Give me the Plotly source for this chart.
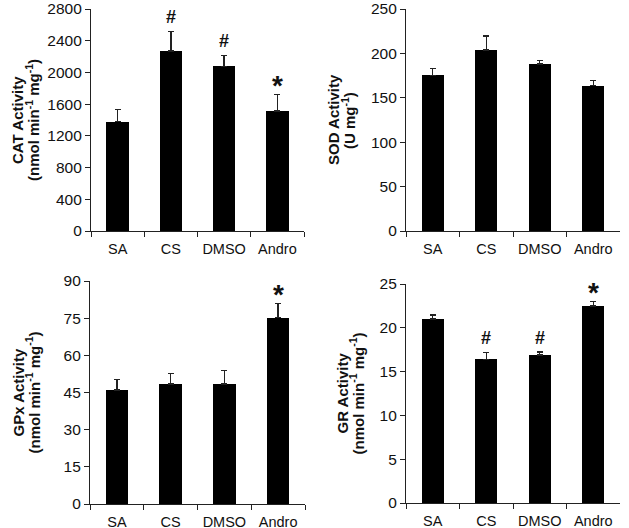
import plotly.graph_objects as go

categories = ["SA", "CS", "DMSO", "Andro"]

cat_mean = [1380, 2270, 2075, 1515]
cat_sem = [155, 250, 140, 205]
cat_sig = ["", "#", "#", "*"]

sod_mean = [175.5, 204, 188, 163.5]
sod_sem = [7.5, 15.5, 4, 6]
sod_sig = ["", "", "", ""]

gpx_mean = [46, 48.4, 48.4, 75.2]
gpx_sem = [4.3, 4.3, 5.6, 5.7]
gpx_sig = ["", "", "", "*"]

gr_mean = [21.0, 16.4, 16.9, 22.5]
gr_sem = [0.45, 0.8, 0.35, 0.5]
gr_sig = ["", "#", "#", "*"]

W, H = 629, 528
FONT = "Liberation Sans, Arial, sans-serif"

panels = [
    dict(mean=cat_mean, sem=cat_sem, sig=cat_sig, ymax=2800, dtick=400,
         t1="CAT Activity", t2="(nmol min<sup>-1</sup> mg<sup>-1</sup>)",
         xpx=(91, 304), ypx=(9, 231), tx=(17, 32)),
    dict(mean=sod_mean, sem=sod_sem, sig=sod_sig, ymax=250, dtick=50,
         t1="SOD Activity", t2="(U mg<sup>-1</sup>)",
         xpx=(406, 620), ypx=(9, 231), tx=(333, 348)),
    dict(mean=gpx_mean, sem=gpx_sem, sig=gpx_sig, ymax=90, dtick=15,
         t1="GPx Activity", t2="(nmol min<sup>-1</sup> mg<sup>-1</sup>)",
         xpx=(90, 305), ypx=(281, 504), tx=(18, 33)),
    dict(mean=gr_mean, sem=gr_sem, sig=gr_sig, ymax=25, dtick=5,
         t1="GR Activity", t2="(nmol min<sup>-1</sup> mg<sup>-1</sup>)",
         xpx=(406, 620), ypx=(284, 503), tx=(342, 357)),
]

fig = go.Figure()
annotations = []
layout = {}
for i, p in enumerate(panels, start=1):
    xa = "x" if i == 1 else f"x{i}"
    ya = "y" if i == 1 else f"y{i}"
    fig.add_trace(go.Bar(
        x=categories, y=p["mean"], xaxis=xa, yaxis=ya,
        width=0.42, marker=dict(color="black", line=dict(width=0)),
        error_y=dict(type="data", array=p["sem"], arrayminus=[0] * 4,
                     symmetric=False, color="#222", thickness=1.3, width=3),
        showlegend=False, hoverinfo="skip",
    ))
    xd = [p["xpx"][0] / W, p["xpx"][1] / W]
    yd = [1 - p["ypx"][1] / H, 1 - p["ypx"][0] / H]
    xkey = "xaxis" if i == 1 else f"xaxis{i}"
    ykey = "yaxis" if i == 1 else f"yaxis{i}"
    layout[xkey] = dict(domain=xd, anchor=ya, type="category",
                        range=[-0.5, 3.5], showline=True, linecolor="#222",
                        linewidth=1.2, ticks="outside", tickson="boundaries",
                        ticklen=5, tickcolor="#222", showgrid=False,
                        tickangle=0, automargin=False, ticklabelstandoff=4,
                        tickfont=dict(family=FONT, size=14.5, color="#111"),
                        zeroline=False, fixedrange=True)
    layout[ykey] = dict(domain=yd, anchor=xa, range=[0, p["ymax"]],
                        dtick=p["dtick"], tick0=0, showline=True,
                        linecolor="#222", linewidth=1.2, ticks="outside",
                        ticklen=5, tickcolor="#222", showgrid=False,
                        zeroline=False, automargin=False,
                        tickfont=dict(family=FONT, size=15.5, color="#111"))
    cy = (yd[0] + yd[1]) / 2
    for txt, xx in ((p["t1"], p["tx"][0]), (p["t2"], p["tx"][1])):
        annotations.append(dict(
            text=f"<b>{txt}</b>", xref="paper", yref="paper", x=xx / W,
            y=cy, xanchor="center", yanchor="middle", textangle=-90,
            showarrow=False, font=dict(family=FONT, size=15, color="#111")))
    for c, m, s, g in zip(categories, p["mean"], p["sem"], p["sig"]):
        if not g:
            continue
        annotations.append(dict(
            text=f"<b>{g}</b>", xref=xa, yref=ya, x=c, y=m + s,
            xanchor="center", yanchor="middle", showarrow=False,
            yshift=14 if g == "#" else 9,
            font=dict(family=FONT, size=18 if g == "#" else 28,
                      color="#111")))

fig.update_layout(width=W, height=H, margin=dict(l=0, r=0, t=0, b=0),
                  paper_bgcolor="white", plot_bgcolor="white",
                  annotations=annotations, bargap=0, **layout)
fig.write_html("out.html", config={"displayModeBar": False},
               post_script="document.body.style.margin='0';"
                           "document.body.style.overflow='hidden';")
